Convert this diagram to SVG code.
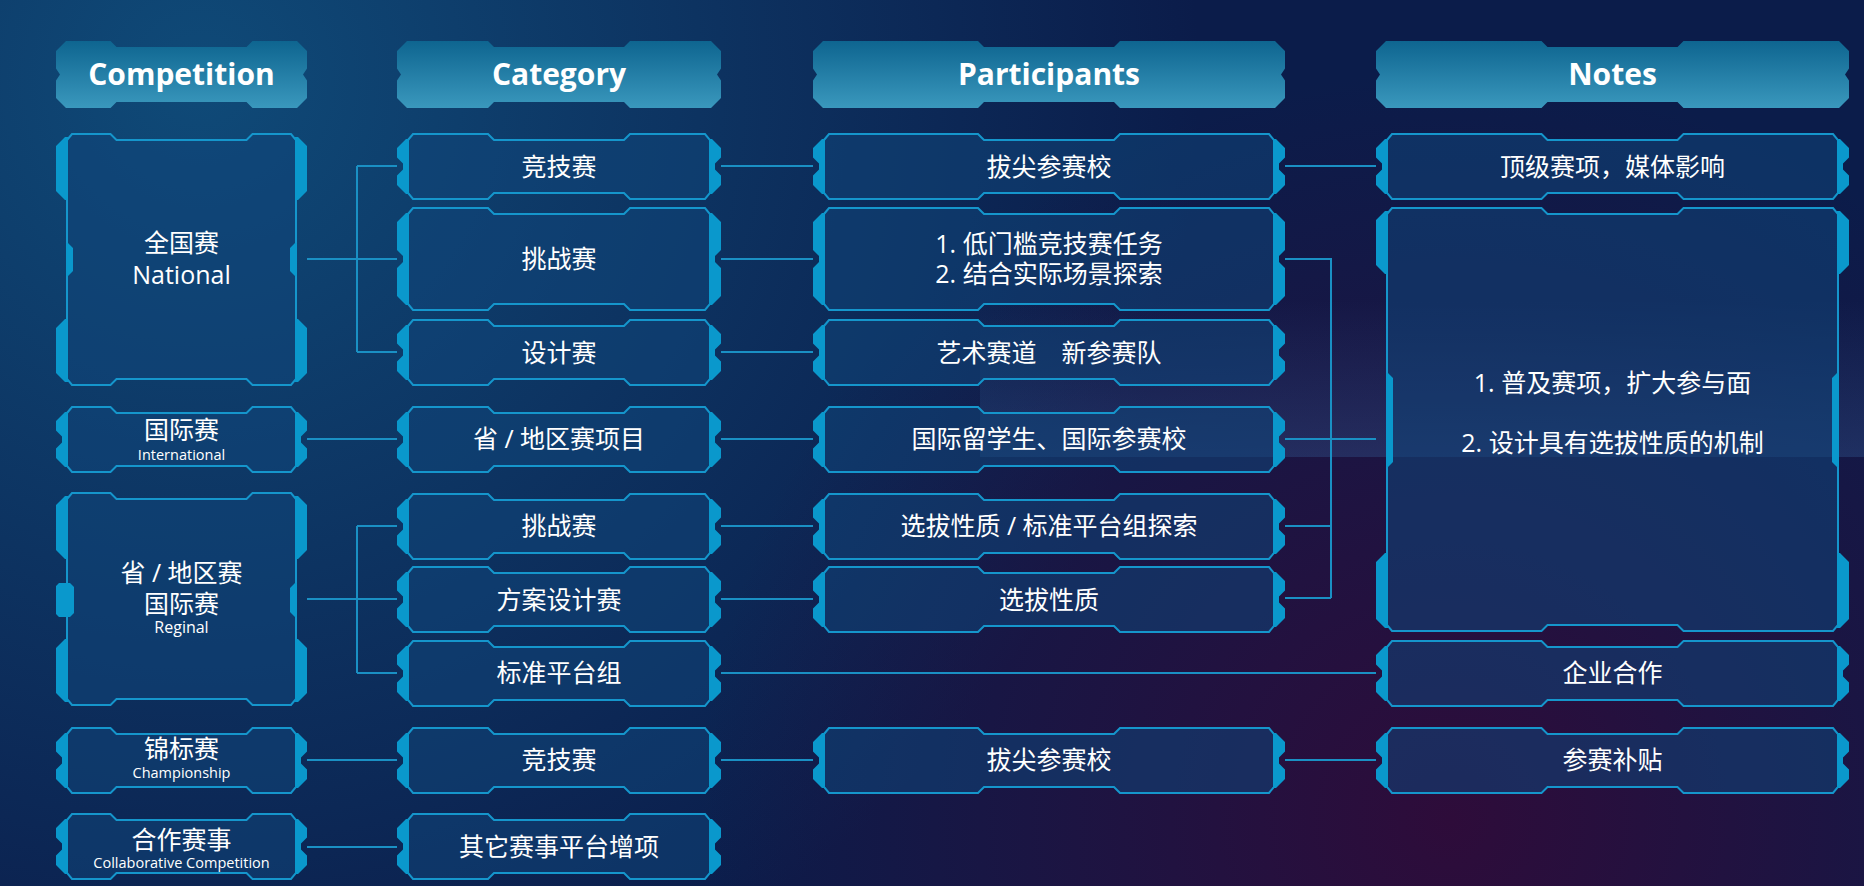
<svg xmlns="http://www.w3.org/2000/svg" width="1864" height="886" viewBox="0 0 1864 886">
<style>
.hd{fill:url(#hg)}
.ht{font-family:"Open Sans","Noto Sans CJK SC",sans-serif;font-weight:bold;font-size:30px;fill:#fff;text-anchor:middle}
.bx{fill:rgb(16,70,122);fill-opacity:.55;stroke:#1596cc;stroke-width:2;stroke-linejoin:miter}
.tab{fill:#0a98cc}
.t{font-family:"Open Sans","Noto Sans CJK SC",sans-serif;font-size:25px;fill:#fff;text-anchor:middle}
.s{font-family:"Open Sans","Noto Sans CJK SC",sans-serif;font-size:14.5px;fill:#fff;text-anchor:middle}
.cn{fill:none;stroke:#1a90c4;stroke-width:2}
</style>
<defs>
<linearGradient id="hg" x1="0" y1="0" x2="0" y2="1">
<stop offset="0" stop-color="#0e6590"/>
<stop offset="1" stop-color="#3a98bd"/>
</linearGradient>
<radialGradient id="tl" cx="200" cy="80" r="1000" gradientUnits="userSpaceOnUse">
<stop offset="0" stop-color="#0f4a78"/>
<stop offset="1" stop-color="#0f4a78" stop-opacity="0"/>
</radialGradient>
<radialGradient id="br" cx="1450" cy="820" r="750" gradientUnits="userSpaceOnUse">
<stop offset="0" stop-color="#2e0c3a"/>
<stop offset="1" stop-color="#2e0c3a" stop-opacity="0"/>
</radialGradient>
<linearGradient id="band" x1="0" y1="0" x2="0" y2="1">
<stop offset="0" stop-color="#3a6eaa" stop-opacity="0"/>
<stop offset="1" stop-color="#3a6eaa" stop-opacity=".28"/>
</linearGradient>
<g id="compS">
<path class="bx" d="M11,7 L16,1 L54.5,1 L60.5,7 L190.5,7 L196.5,1 L235,1 L240,7 L240,60 L235,66 L196.5,66 L190.5,60 L60.5,60 L54.5,66 L16,66 L11,60 Z"/>
<path class="tab" d="M12,6 L9,6 L0,15 L0,24.5 L6,30.5 L6,36.5 L0,42.5 L0,52 L9,61 L12,61 Z"/>
<path class="tab" d="M239,6 L242,6 L251,15 L251,24.5 L245,30.5 L245,36.5 L251,42.5 L251,52 L242,61 L239,61 Z"/>
</g>
<g id="catS">
<path class="bx" d="M11,7 L16,1 L91,1 L97,7 L227,7 L233,1 L308,1 L313,7 L313,60 L308,66 L233,66 L227,60 L97,60 L91,66 L16,66 L11,60 Z"/>
<path class="tab" d="M12,6 L9,6 L0,15 L0,24.5 L6,30.5 L6,36.5 L0,42.5 L0,52 L9,61 L12,61 Z"/>
<path class="tab" d="M312,6 L315,6 L324,15 L324,24.5 L318,30.5 L318,36.5 L324,42.5 L324,52 L315,61 L312,61 Z"/>
</g>
<g id="catL">
<path class="bx" d="M11,7 L16,1 L91,1 L97,7 L227,7 L233,1 L308,1 L313,7 L313,97 L308,103 L233,103 L227,97 L97,97 L91,103 L16,103 L11,97 Z"/>
<path class="tab" d="M12,6 L9,6 L0,15 L0,43 L6,49 L6,55 L0,61 L0,89 L9,98 L12,98 Z"/>
<path class="tab" d="M312,6 L315,6 L324,15 L324,43 L318,49 L318,55 L324,61 L324,89 L315,98 L312,98 Z"/>
</g>
<g id="partS">
<path class="bx" d="M11,7 L16,1 L165,1 L171,7 L301,7 L307,1 L456,1 L461,7 L461,60 L456,66 L307,66 L301,60 L171,60 L165,66 L16,66 L11,60 Z"/>
<path class="tab" d="M12,6 L9,6 L0,15 L0,24.5 L6,30.5 L6,36.5 L0,42.5 L0,52 L9,61 L12,61 Z"/>
<path class="tab" d="M460,6 L463,6 L472,15 L472,24.5 L466,30.5 L466,36.5 L472,42.5 L472,52 L463,61 L460,61 Z"/>
</g>
<g id="partL">
<path class="bx" d="M11,7 L16,1 L165,1 L171,7 L301,7 L307,1 L456,1 L461,7 L461,97 L456,103 L307,103 L301,97 L171,97 L165,103 L16,103 L11,97 Z"/>
<path class="tab" d="M12,6 L9,6 L0,15 L0,43 L6,49 L6,55 L0,61 L0,89 L9,98 L12,98 Z"/>
<path class="tab" d="M460,6 L463,6 L472,15 L472,43 L466,49 L466,55 L472,61 L472,89 L463,98 L460,98 Z"/>
</g>
<g id="notesS">
<path class="bx" d="M11,7 L16,1 L165.5,1 L171.5,7 L301.5,7 L307.5,1 L457,1 L462,7 L462,60 L457,66 L307.5,66 L301.5,60 L171.5,60 L165.5,66 L16,66 L11,60 Z"/>
<path class="tab" d="M12,6 L9,6 L0,15 L0,24.5 L6,30.5 L6,36.5 L0,42.5 L0,52 L9,61 L12,61 Z"/>
<path class="tab" d="M461,6 L464,6 L473,15 L473,24.5 L467,30.5 L467,36.5 L473,42.5 L473,52 L464,61 L461,61 Z"/>
</g>
</defs>

<g id="background">
<rect width="1864" height="886" fill="#0b1c4a"/>
<rect width="1864" height="886" fill="url(#tl)"/>
<rect width="1864" height="886" fill="url(#br)"/>
<rect x="980" y="300" width="884" height="157" fill="url(#band)"/>
</g>

<g id="connectors" class="cn">
<path d="M307,259 H397 M357,166 V352 M357,166 H397 M357,352 H397"/>
<path d="M721,166 H813 M1285,166 H1376"/>
<path d="M721,259 H813 M1285,259 H1331 V598 M1285,526 H1331 M1285,598 H1331"/>
<path d="M721,352 H813"/>
<path d="M307,439 H397 M721,439 H813 M1285,439 H1376"/>
<path d="M307,599 H357 M357,526 V673 M357,526 H397 M357,599 H397 M357,673 H397"/>
<path d="M721,526 H813 M721,599 H813 M721,673 H1376"/>
<path d="M307,760 H397 M721,760 H813 M1285,760 H1376"/>
<path d="M307,847 H397"/>
</g>

<g id="header-competition">
<polygon class="hd" transform="translate(56,41)" points="10,0 54.5,0 60.5,6 190.5,6 196.5,0 241,0 251,10 251,27.5 247,33.5 251,39.5 251,57 241,67 196.5,67 190.5,61 60.5,61 54.5,67 10,67 0,57 0,39.5 4,33.5 0,27.5 0,10"/>
<text class="ht" x="181.5" y="85">Competition</text>
</g>
<g id="header-category">
<polygon class="hd" transform="translate(397,41)" points="10,0 91,0 97,6 227,6 233,0 314,0 324,10 324,27.5 320,33.5 324,39.5 324,57 314,67 233,67 227,61 97,61 91,67 10,67 0,57 0,39.5 4,33.5 0,27.5 0,10"/>
<text class="ht" x="559" y="85">Category</text>
</g>
<g id="header-participants">
<polygon class="hd" transform="translate(813,41)" points="10,0 165,0 171,6 301,6 307,0 462,0 472,10 472,27.5 468,33.5 472,39.5 472,57 462,67 307,67 301,61 171,61 165,67 10,67 0,57 0,39.5 4,33.5 0,27.5 0,10"/>
<text class="ht" x="1049" y="85">Participants</text>
</g>
<g id="header-notes">
<polygon class="hd" transform="translate(1376,41)" points="10,0 165.5,0 171.5,6 301.5,6 307.5,0 463,0 473,10 473,27.5 469,33.5 473,39.5 473,57 463,67 307.5,67 301.5,61 171.5,61 165.5,67 10,67 0,57 0,39.5 4,33.5 0,27.5 0,10"/>
<text class="ht" x="1612.5" y="85">Notes</text>
</g>

<g id="comp-national" transform="translate(56,133)">
<path class="bx" d="M11,7 L16,1 L54.5,1 L60.5,7 L190.5,7 L196.5,1 L235,1 L240,7 L240,246 L235,252 L196.5,252 L190.5,246 L60.5,246 L54.5,252 L16,252 L11,246 Z"/>
<path class="tab" d="M12,4 L9,4 L0,13 L0,58 L9,67 L12,67 Z M12,249 L9,249 L0,240 L0,195 L9,186 L12,186 Z M239,4 L242,4 L251,13 L251,58 L242,67 L239,67 Z M239,249 L242,249 L251,240 L251,195 L242,186 L239,186 Z"/>
<path class="tab" d="M10,110 L12,110 L17,115 L17,138 L12,143 L10,143 Z M241,110 L239,110 L234,115 L234,138 L239,143 L241,143 Z"/>
<text class="t" x="125.5" y="118.5">全国赛</text>
<text class="t" x="125.5" y="150.5">National</text>
</g>

<g id="comp-international">
<use href="#compS" transform="translate(56,406)"/>
<text class="t" x="181.5" y="439">国际赛</text>
<text class="s" x="181.5" y="460">International</text>
</g>

<g id="comp-regional" transform="translate(56,492)">
<path class="bx" d="M11,7 L16,1 L54.5,1 L60.5,7 L190.5,7 L196.5,1 L235,1 L240,7 L240,207 L235,213 L196.5,213 L190.5,207 L60.5,207 L54.5,213 L16,213 L11,207 Z"/>
<path class="tab" d="M12,4 L9,4 L0,13 L0,58 L9,67 L12,67 Z M12,210 L9,210 L0,201 L0,156 L9,147 L12,147 Z M239,4 L242,4 L251,13 L251,58 L242,67 L239,67 Z M239,210 L242,210 L251,201 L251,156 L242,147 L239,147 Z"/>
<path class="tab" d="M3,91 L14,91 L18,95 L18,121 L14,125 L3,125 L0,122 L0,94 Z M241,91 L239,91 L234,96 L234,120 L239,125 L241,125 Z"/>
<text class="t" x="125.5" y="89.5">省 / 地区赛<tspan x="125.5" y="120.5">国际赛</tspan></text>
<text class="t" x="125.5" y="141" style="font-size:16px">Reginal</text>
</g>

<g id="comp-championship">
<use href="#compS" transform="translate(56,727)"/>
<text class="t" x="181.5" y="758">锦标赛</text>
<text class="s" x="181.5" y="778">Championship</text>
</g>

<g id="comp-collaborative">
<use href="#compS" transform="translate(56,813)"/>
<text class="t" x="181.5" y="848.5">合作赛事</text>
<text class="s" x="181.5" y="868">Collaborative Competition</text>
</g>

<g id="cat-1"><use href="#catS" transform="translate(397,133)"/><text class="t" x="559" y="175.5">竞技赛</text></g>
<g id="cat-2"><use href="#catL" transform="translate(397,207)"/><text class="t" x="559" y="268">挑战赛</text></g>
<g id="cat-3"><use href="#catS" transform="translate(397,319)"/><text class="t" x="559" y="361.5">设计赛</text></g>
<g id="cat-4"><use href="#catS" transform="translate(397,406)"/><text class="t" x="559" y="448">省 / 地区赛项目</text></g>
<g id="cat-5"><use href="#catS" transform="translate(397,493)"/><text class="t" x="559" y="535">挑战赛</text></g>
<g id="cat-6"><use href="#catS" transform="translate(397,566)"/><text class="t" x="559" y="608.5">方案设计赛</text></g>
<g id="cat-7"><use href="#catS" transform="translate(397,640)"/><text class="t" x="559" y="682">标准平台组</text></g>
<g id="cat-8"><use href="#catS" transform="translate(397,727)"/><text class="t" x="559" y="769">竞技赛</text></g>
<g id="cat-9"><use href="#catS" transform="translate(397,813)"/><text class="t" x="559" y="855.5">其它赛事平台增项</text></g>

<g id="part-1"><use href="#partS" transform="translate(813,133)"/><text class="t" x="1049" y="175.5">拔尖参赛校</text></g>
<g id="part-2"><use href="#partL" transform="translate(813,207)"/><text class="t" x="1049" y="253">1. 低门槛竞技赛任务<tspan x="1049" y="283">2. 结合实际场景探索</tspan></text></g>
<g id="part-3"><use href="#partS" transform="translate(813,319)"/><text class="t" x="1049" y="361.5" xml:space="preserve">艺术赛道　新参赛队</text></g>
<g id="part-4"><use href="#partS" transform="translate(813,406)"/><text class="t" x="1049" y="448">国际留学生、国际参赛校</text></g>
<g id="part-5"><use href="#partS" transform="translate(813,493)"/><text class="t" x="1049" y="535">选拔性质 / 标准平台组探索</text></g>
<g id="part-6"><use href="#partS" transform="translate(813,566)"/><text class="t" x="1049" y="608.5">选拔性质</text></g>
<g id="part-8"><use href="#partS" transform="translate(813,727)"/><text class="t" x="1049" y="769">拔尖参赛校</text></g>

<g id="notes-1"><use href="#notesS" transform="translate(1376,133)"/><text class="t" x="1612.5" y="175.5">顶级赛项，媒体影响</text></g>
<g id="notes-2" transform="translate(1376,207)">
<path class="bx" d="M11,7 L16,1 L165.5,1 L171.5,7 L301.5,7 L307.5,1 L457,1 L462,7 L462,418 L457,424 L307.5,424 L301.5,418 L171.5,418 L165.5,424 L16,424 L11,418 Z"/>
<path class="tab" d="M12,4 L9,4 L0,13 L0,58 L9,67 L12,67 Z M12,421 L9,421 L0,412 L0,355 L9,346 L12,346 Z M461,4 L464,4 L473,13 L473,58 L464,67 L461,67 Z M461,421 L464,421 L473,412 L473,355 L464,346 L461,346 Z"/>
<path class="tab" d="M10,166 L12,166 L17,171 L17,255 L12,260 L10,260 Z M463,166 L461,166 L456,171 L456,255 L461,260 L463,260 Z"/>
<text class="t" x="236.5" y="185">1. 普及赛项，扩大参与面</text>
<text class="t" x="236.5" y="245">2. 设计具有选拔性质的机制</text>
</g>
<g id="notes-7"><use href="#notesS" transform="translate(1376,640)"/><text class="t" x="1612.5" y="682">企业合作</text></g>
<g id="notes-8"><use href="#notesS" transform="translate(1376,727)"/><text class="t" x="1612.5" y="769">参赛补贴</text></g>
</svg>
